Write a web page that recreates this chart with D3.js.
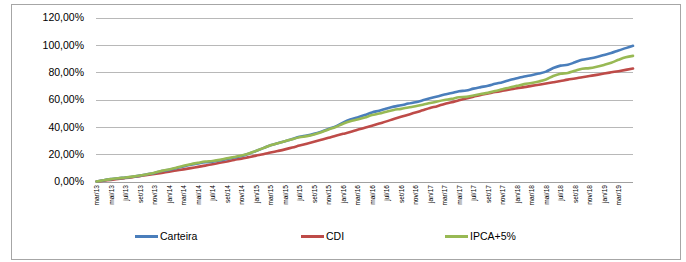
<!DOCTYPE html>
<html><head><meta charset="utf-8">
<script src="https://cdn.jsdelivr.net/npm/d3@7"></script>
<style>
html,body{margin:0;padding:0;background:#fff;}
svg{display:block;font-family:"Liberation Sans",Arial,sans-serif;}
</style></head>
<body><svg id="c" width="686" height="262"></svg>
<script>
const categories = ["mar/13","abr/13","mai/13","jun/13","jul/13","ago/13","set/13","out/13","nov/13","dez/13",
"jan/14","fev/14","mar/14","abr/14","mai/14","jun/14","jul/14","ago/14","set/14","out/14","nov/14","dez/14",
"jan/15","fev/15","mar/15","abr/15","mai/15","jun/15","jul/15","ago/15","set/15","out/15","nov/15","dez/15",
"jan/16","fev/16","mar/16","abr/16","mai/16","jun/16","jul/16","ago/16","set/16","out/16","nov/16","dez/16",
"jan/17","fev/17","mar/17","abr/17","mai/17","jun/17","jul/17","ago/17","set/17","out/17","nov/17","dez/17",
"jan/18","fev/18","mar/18","abr/18","mai/18","jun/18","jul/18","ago/18","set/18","out/18","nov/18","dez/18",
"jan/19","fev/19","mar/19","abr/19","mai/19"];

const xTickLabels = ["mar/13","mai/13","jul/13","set/13","nov/13","jan/14","mar/14","mai/14","jul/14","set/14","nov/14",
"jan/15","mar/15","mai/15","jul/15","set/15","nov/15","jan/16","mar/16","mai/16","jul/16","set/16","nov/16",
"jan/17","mar/17","mai/17","jul/17","set/17","nov/17","jan/18","mar/18","mai/18","jul/18","set/18","nov/18",
"jan/19","mar/19"];

const carteira = [0,0.95,1.72,2.40,2.85,3.50,4.28,5.28,6.25,7.62,
8.50,9.62,11.02,12.20,13.18,14.05,14.55,15.35,16.50,17.50,18.60,20.30,
22.35,24.40,26.55,28.00,29.50,31.10,32.70,33.60,34.85,36.50,38.45,40.35,
43.10,45.35,46.85,48.60,50.55,51.85,53.40,54.80,55.75,57.00,58.05,59.40,
60.85,62.20,63.60,64.70,66.05,66.60,67.95,69.05,70.10,71.50,72.70,74.20,
75.50,76.85,77.80,78.95,80.40,83.00,84.80,85.40,87.20,89.10,90.00,91.10,
92.60,94.00,95.90,97.60,99.30];

const cdi = [0,0.60,1.18,1.78,2.50,3.21,3.93,4.76,5.50,6.33,
7.22,8.06,8.88,9.77,10.72,11.63,12.68,13.65,14.67,15.75,16.72,17.83,
18.93,19.90,21.15,22.30,23.50,24.82,26.29,27.69,29.11,30.54,31.93,33.46,
34.86,36.21,37.79,39.24,40.78,42.41,43.99,45.73,47.35,48.90,50.45,52.13,
53.79,55.13,56.76,57.99,59.46,60.75,62.04,63.34,64.38,65.45,66.40,67.30,
68.27,69.06,69.96,70.84,71.73,72.62,73.55,74.54,75.36,76.31,77.17,78.04,
79.00,79.88,80.73,81.67,82.65];

const ipca5 = [0,0.96,1.75,2.43,2.88,3.55,4.34,5.36,6.36,7.78,
8.81,10.01,11.47,12.68,13.66,14.58,15.06,15.82,16.96,17.93,19.01,20.43,
22.42,24.41,26.56,27.98,29.45,31.00,32.35,33.19,34.45,36.10,38.04,39.93,
42.28,44.14,45.35,46.83,48.58,49.71,51.10,52.38,53.13,54.16,55.07,56.17,
57.40,58.57,59.62,60.50,61.65,61.94,62.99,63.97,64.90,66.27,67.42,68.84,
70.02,71.26,72.12,73.20,74.61,77.20,78.84,79.41,81.01,82.56,82.93,83.95,
85.30,86.85,89.02,90.87,91.90];

const yTicks = [0,20,40,60,80,100,120];
const seriesNames = ["Carteira","CDI","IPCA+5%"];
const seriesColors = ["#4a7ebb","#be4b48","#98b954"];

const svg = d3.select("#c");
svg.append("rect").attr("x",11.5).attr("y",4.5).attr("width",669).attr("height",255)
  .attr("fill","#fff").attr("stroke","#a6a6a6").attr("stroke-width",1);

const x = d3.scalePoint().domain(categories).range([96.5,633]);
const y = d3.scaleLinear().domain([0,120]).range([181.5,17.5]);

// gridlines
svg.append("g").selectAll("line").data(yTicks).join("line")
  .attr("x1",96).attr("x2",633)
  .attr("y1",d=>Math.round(y(d))+0.5).attr("y2",d=>Math.round(y(d))+0.5)
  .attr("stroke",d=>d===0?"#a0a0a0":"#b8b8b8").attr("stroke-width",1);

// y axis labels
const yAxis = d3.axisLeft(y).tickValues(yTicks).tickSize(0).tickPadding(0)
  .tickFormat(d=>d3.format(".2f")(d).replace(".",",")+"%");
const gy = svg.append("g").attr("transform","translate(84,0)").call(yAxis);
gy.select(".domain").remove();
gy.selectAll("text").attr("font-size","10.5px").attr("fill","#000")
  .attr("font-family","Liberation Sans, Arial, sans-serif");

// x axis labels
const xAxis = d3.axisBottom(x).tickValues(xTickLabels).tickSize(0).tickPadding(0);
const gx = svg.append("g").attr("transform","translate(0,185)").call(xAxis);
gx.select(".domain").remove();
gx.selectAll("text").attr("font-size","6.6px").attr("fill","#000")
  .attr("font-family","Liberation Sans, Arial, sans-serif")
  .attr("text-anchor","end").attr("dy","0.32em").attr("dx","0")
  .attr("transform","rotate(-90)").attr("x",0).attr("y",0);

// lines
const all = [carteira,cdi,ipca5];
const line = d3.line().x((d,i)=>x(categories[i])).y(d=>y(d)).curve(d3.curveMonotoneX);
const order = [1,0,2];
order.forEach(k=>{
  svg.append("path").attr("d",line(all[k])).attr("fill","none")
    .attr("stroke",seriesColors[k]).attr("stroke-width",2.6)
    .attr("stroke-linejoin","round").attr("stroke-linecap","round");
});

// legend
const legX = [135,301,445];
const lg = svg.append("g");
seriesNames.forEach((n,i)=>{
  lg.append("line").attr("x1",legX[i]).attr("x2",legX[i]+23).attr("y1",236.5).attr("y2",236.5)
    .attr("stroke",seriesColors[i]).attr("stroke-width",3);
  lg.append("text").attr("x",legX[i]+25).attr("y",236.5).attr("dy","0.35em")
    .attr("font-size","10.5px").attr("fill","#000").text(n);
});
</script></body></html>
